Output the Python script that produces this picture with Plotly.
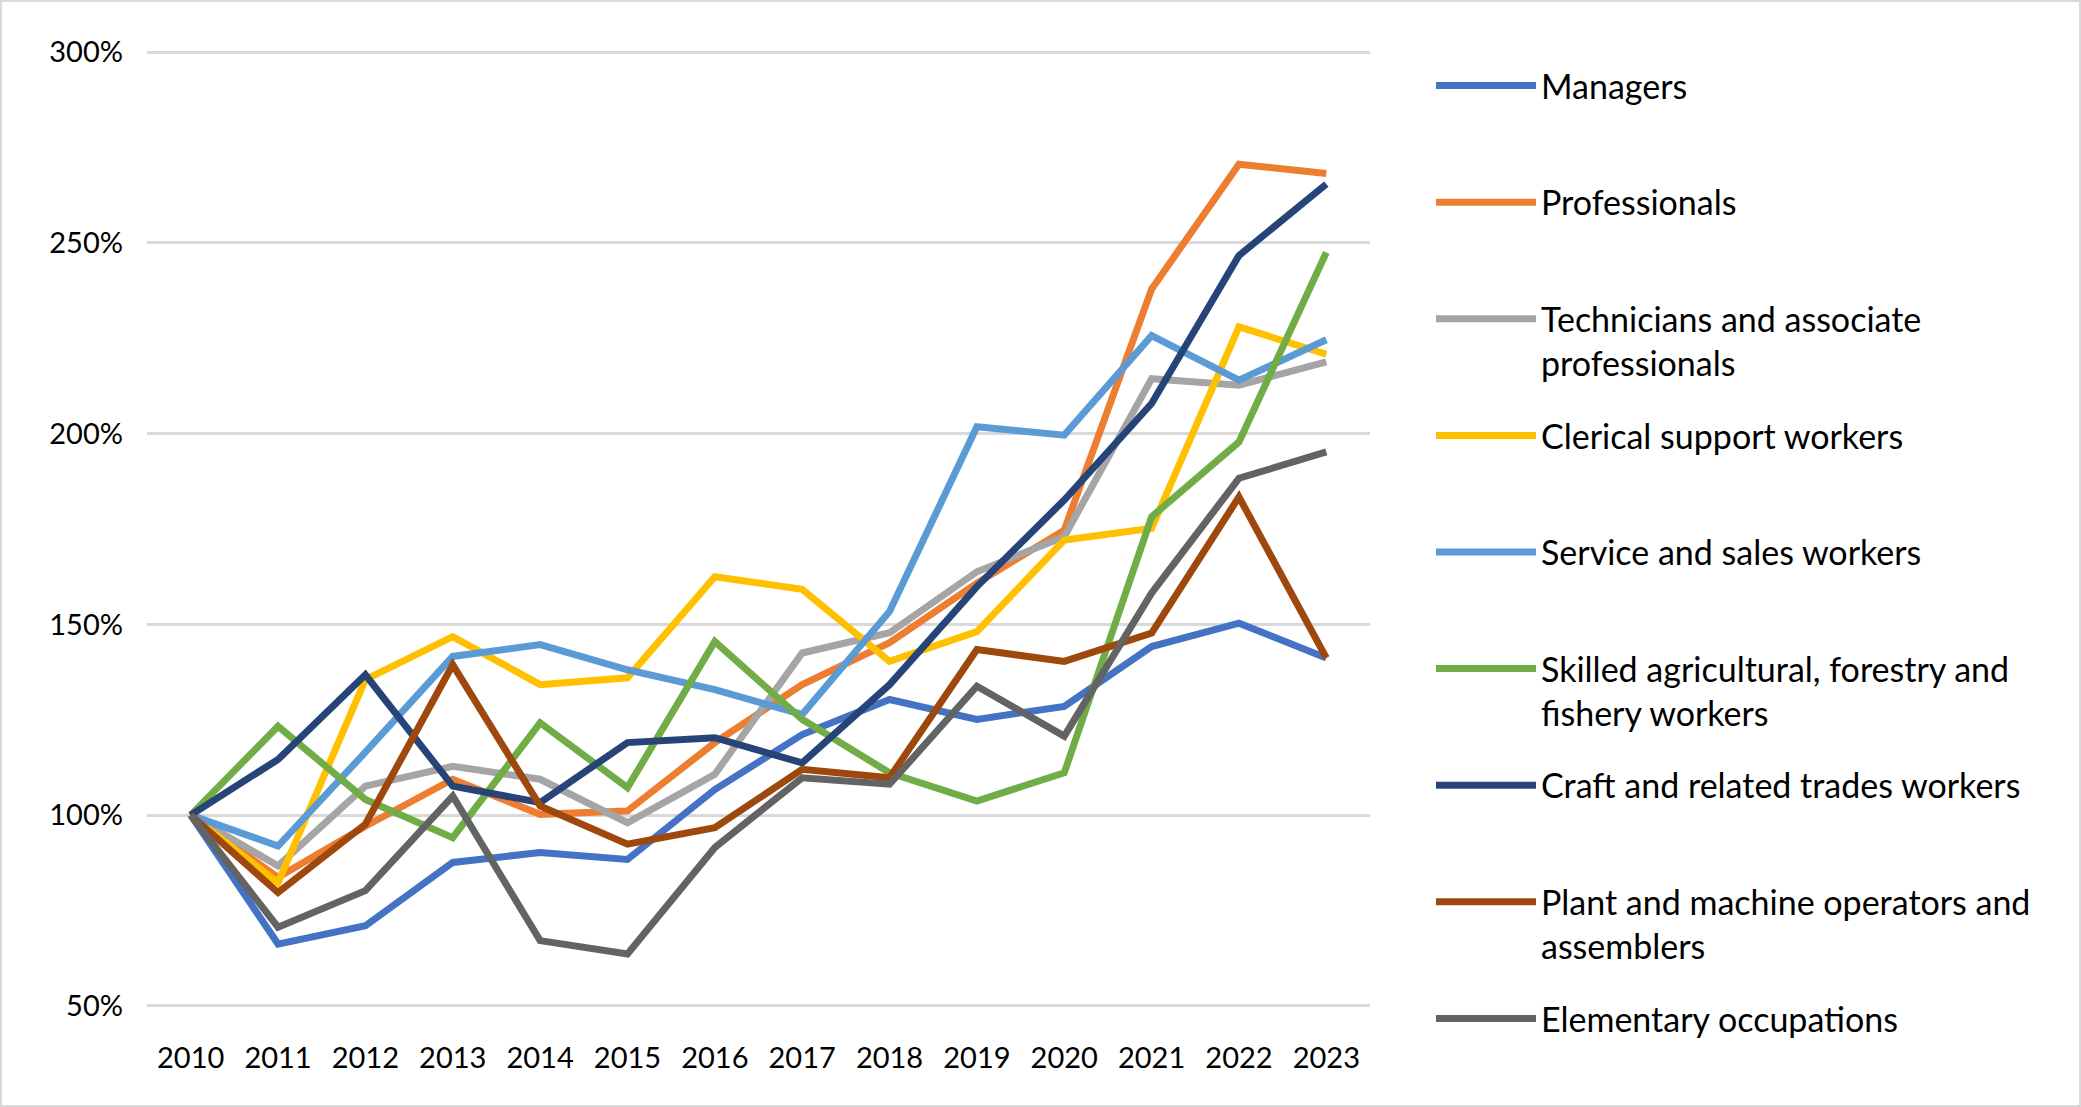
import plotly.graph_objects as go

years = ["2010", "2011", "2012", "2013", "2014", "2015", "2016",
         "2017", "2018", "2019", "2020", "2021", "2022", "2023"]

managers = [100, 66.2, 71.0, 87.6, 90.2, 88.4, 106.7, 121.1, 130.3, 125.1, 128.5, 144.2, 150.3, 141.2]
professionals = [100, 83.7, 97.1, 109.4, 100.2, 101.1, 119.0, 134.2, 145.2, 160.8, 174.7, 237.9, 270.6, 268.2]
technicians = [100, 86.7, 107.6, 112.8, 109.4, 98.0, 110.7, 142.5, 147.8, 163.8, 173.0, 214.4, 212.7, 218.8]
clerical = [100, 82.3, 135.5, 146.8, 134.2, 136.0, 162.5, 159.2, 140.3, 148.1, 172.1, 175.2, 228.0, 220.8]
service = [100, 91.9, 116.5, 141.6, 144.7, 138.1, 132.9, 126.4, 153.4, 201.8, 199.6, 225.7, 214.0, 224.6]
skilled = [100, 123.3, 104.1, 94.1, 124.2, 107.2, 145.5, 125.1, 111.1, 103.7, 111.1, 178.2, 197.8, 247.5]
craft = [100, 114.6, 136.8, 107.6, 103.3, 119.0, 120.3, 113.7, 134.2, 159.9, 182.6, 207.9, 246.7, 265.4]
plant = [100, 79.7, 97.6, 139.4, 102.4, 92.4, 96.7, 112.0, 109.8, 143.4, 140.3, 147.7, 183.4, 141.2]
elementary = [100, 70.6, 80.2, 105.0, 67.1, 63.6, 91.5, 109.8, 108.1, 133.8, 120.7, 158.2, 188.3, 195.2]

series_names = [
    "Managers",
    "Professionals",
    "Technicians and associate<br>professionals",
    "Clerical support workers",
    "Service and sales workers",
    "Skilled agricultural, forestry and<br>fishery workers",
    "Craft and related trades workers",
    "Plant and machine operators and<br>assemblers",
    "Elementary occupations",
]
series_values = [managers, professionals, technicians, clerical, service,
                 skilled, craft, plant, elementary]
series_colors = ["#4472C4", "#ED7D31", "#A5A5A5", "#FFC000", "#5B9BD5",
                 "#70AD47", "#264478", "#9E480E", "#636363"]

y_ticks = [50, 100, 150, 200, 250, 300]
y_tick_labels = ["50%", "100%", "150%", "200%", "250%", "300%"]

W, H = 2081, 1107
ML, MR, MT, MB = 147, 711, 51, 100
FONT = "Lato, 'Open Sans', sans-serif"
FS = 29
LFS = 34

fig = go.Figure()
n = len(series_names)
for i, (name, vals, col) in enumerate(zip(series_names, series_values, series_colors)):
    label = name if ("<br>" in name or i == n - 1) else name + "<br>\u00a0"
    fig.add_trace(go.Scatter(
        x=list(range(len(years))), y=vals, mode="lines", name=label,
        line=dict(color=col, width=7), legendgroup=name,
    ))

pw = W - ML - MR
ph = H - MT - MB

fig.update_layout(
    width=W, height=H,
    margin=dict(l=ML, r=MR, t=MT, b=MB),
    paper_bgcolor="white", plot_bgcolor="white",
    font=dict(family=FONT, size=FS, color="#000000"),
    showlegend=True,
    legend=dict(
        x=(1436 - ML - 5) / pw, y=1 - (57 - MT) / ph,
        xanchor="left", yanchor="top",
        font=dict(family=FONT, size=LFS, color="#000000"),
        valign="top", tracegroupgap=25.2, itemwidth=100,
        bgcolor="rgba(0,0,0,0)", maxheight=1100,
    ),
    xaxis=dict(
        range=[-0.5, len(years) - 0.5],
        tickmode="array", tickvals=list(range(len(years))), ticktext=years,
        showgrid=False, zeroline=False, showline=False,
        ticklabelstandoff=31,
        tickfont=dict(family=FONT, size=FS, color="#000000"),
    ),
    yaxis=dict(
        range=[49.7, 300.3],
        tickmode="array", tickvals=y_ticks, ticktext=y_tick_labels,
        showgrid=True, gridcolor="#D9D9D9", gridwidth=2.5,
        zeroline=False, showline=False,
        ticklabelstandoff=23,
        tickfont=dict(family=FONT, size=FS, color="#000000"),
    ),
    shapes=[dict(
        type="rect", xref="paper", yref="paper",
        x0=(1 - ML) / pw, x1=(W - ML - 1) / pw,
        y0=-(MB - 1) / ph, y1=1 + (MT - 1) / ph,
        line=dict(color="#D9D9D9", width=2), fillcolor="rgba(0,0,0,0)",
        layer="below",
    )],
)

fig.write_html("out.html", config={"displayModeBar": False},
               post_script="document.body.style.margin='0';document.body.style.overflow='hidden';")
